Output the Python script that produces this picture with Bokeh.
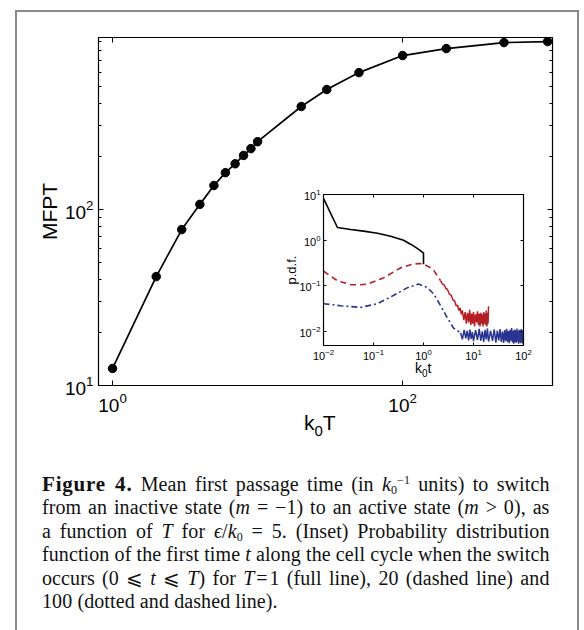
from bokeh.plotting import figure
from bokeh.models import Range1d, FixedTicker, LogAxis, Div, CustomJSTickFormatter
from bokeh.layouts import column
from bokeh.embed import file_html
from bokeh.resources import INLINE

# ---------------- data ----------------
T_values = [1, 2, 3, 4, 5, 6, 7, 8, 9, 10, 20, 30, 50, 100, 200, 500, 1000]
mfpt_values = [12.5, 41.6, 76.9, 107, 137, 162, 182, 203, 222, 243, 385, 481, 600, 750, 822, 889, 901]

main_x_ticks = [1, 100]
main_y_ticks = [10, 100]
main_y_minor = [20, 30, 40, 50, 60, 70, 80, 90, 200, 300, 400, 500, 600, 700, 800, 900]
inset_x_ticks = [0.01, 0.1, 1, 10, 100]
inset_y_ticks = [0.01, 0.1, 1, 10]

# inset: T = 1 (full line)
t1_t = [0.01, 0.019, 0.035, 0.063, 0.12, 0.22, 0.4, 0.55, 0.7, 0.85, 1.0, 1.0]
t1_p = [8.2, 1.9, 1.72, 1.58, 1.42, 1.22, 1.0, 0.82, 0.7, 0.6, 0.52, 0.3]

# inset: T = 20 (dashed line), smooth part and noisy tail
t20_t = [0.01, 0.019, 0.035, 0.05, 0.076, 0.158, 0.35, 0.6, 0.85, 1.0, 1.3, 1.6, 2.2]
t20_p = [0.21, 0.13, 0.107, 0.106, 0.11, 0.15, 0.25, 0.3, 0.31, 0.3, 0.26, 0.22, 0.13]
t20n_t = [2.2, 2.4, 2.6, 2.8, 3.0, 3.3, 3.6, 3.9, 4.2, 4.5, 4.8, 5.1, 5.4, 5.7, 6.0,
          6.4, 6.8, 7.2, 7.6, 8.0, 8.4, 8.8, 9.2, 9.6, 10.0, 10.5, 11.0, 11.5, 12.0, 12.5,
          13.0, 13.5, 14.0, 14.5, 15.0, 15.5, 16.0, 16.5, 17.0, 17.5, 18.0, 18.5, 19.0, 19.5, 20.0]
t20n_p = [0.13, 0.11, 0.105, 0.088, 0.085, 0.066, 0.062, 0.049, 0.047, 0.037, 0.038, 0.029, 0.033, 0.024, 0.029,
          0.018, 0.027, 0.015, 0.026, 0.016, 0.03, 0.014, 0.025, 0.015, 0.027,
          0.013, 0.024, 0.016, 0.028, 0.014, 0.025, 0.013, 0.026, 0.015, 0.024,
          0.013, 0.027, 0.015, 0.025, 0.014, 0.029, 0.013, 0.026, 0.015, 0.036]

# inset: T = 100 (dotted and dashed line), smooth part and noisy tail
t100_t = [0.01, 0.022, 0.055, 0.12, 0.25, 0.48, 0.79, 1.2, 1.6, 2.2, 3.0, 4.0, 5.5]
t100_p = [0.041, 0.037, 0.034, 0.041, 0.062, 0.092, 0.11, 0.092, 0.067, 0.037, 0.02, 0.012, 0.0095]
t100n_t = [5.5, 6, 6.5, 7, 7.5, 8, 8.5, 9, 9.5, 10,
           11, 12, 13, 14, 15, 16, 17, 18, 19, 20,
           22, 24, 26, 28, 30, 32, 34, 36, 38, 40,
           42, 44, 46, 48, 50, 52, 54, 56, 58, 60,
           62, 64, 66, 68, 70, 72, 74, 76, 78, 80,
           82, 84, 86, 88, 90, 92, 94, 96, 98, 100]
t100n_p = [0.0095, 0.0068, 0.011, 0.0072, 0.0105, 0.0065, 0.0112, 0.007, 0.0098, 0.0062,
           0.0108, 0.0066, 0.0115, 0.0064, 0.0102, 0.006, 0.011, 0.0068, 0.0118, 0.0061,
           0.0104, 0.0063, 0.0112, 0.0058, 0.0106, 0.0065, 0.0114, 0.006, 0.0101, 0.0057,
           0.0109, 0.0062, 0.0116, 0.0059, 0.0103, 0.0056, 0.011, 0.0064, 0.012, 0.0058,
           0.0105, 0.0055, 0.0112, 0.006, 0.0107, 0.0057, 0.0118, 0.0062, 0.0103, 0.0055,
           0.0111, 0.0059, 0.0106, 0.0056, 0.0114, 0.006, 0.0102, 0.0055, 0.0109, 0.0058]

# ---------------- style ----------------
SANS = "Liberation Sans"
RED = "#b52025"
BLUE = "#2a3491"


def blank():
    return CustomJSTickFormatter(code="return '';")


def style_axis(ax, major_in, minor_in, size, standoff):
    ax.major_tick_in = major_in
    ax.major_tick_out = 0
    ax.minor_tick_in = minor_in
    ax.minor_tick_out = 0
    ax.axis_line_color = "black"
    ax.axis_line_width = 1.2
    ax.major_tick_line_color = "black"
    ax.minor_tick_line_color = "black"
    ax.major_label_text_font = SANS
    ax.major_label_text_font_size = size
    ax.major_label_text_color = "black"
    ax.major_label_standoff = standoff


# both plots get the same left/right borders (the column aligns their frames)
BORDER_L = 98
BORDER_R = 32

# ---------------- main plot ----------------
main = figure(width=584, height=630, frame_width=454, frame_height=348,
              x_axis_type="log", y_axis_type="log",
              x_range=Range1d(0.8, 1080), y_range=Range1d(10, 950),
              output_backend="svg", toolbar_location=None,
              min_border_left=BORDER_L, min_border_right=BORDER_R, min_border_top=37, min_border_bottom=245,
              background_fill_color="white", border_fill_color="white")
main.grid.visible = False
main.outline_line_color = "black"
main.line(T_values, mfpt_values, line_color="black", line_width=1.7)
main.scatter(T_values, mfpt_values, marker="circle", size=8.5, fill_color="black", line_color="black")

main.xaxis.ticker = FixedTicker(ticks=main_x_ticks)
main.yaxis.ticker = FixedTicker(ticks=main_y_ticks, minor_ticks=main_y_minor)
style_axis(main.xaxis[0], 5, 3, "19px", 7)
style_axis(main.yaxis[0], 5, 3, "19px", 5)
main.yaxis.axis_label = "MFPT"
main.yaxis.axis_label_text_font = SANS
main.yaxis.axis_label_text_font_size = "21px"
main.yaxis.axis_label_text_font_style = "normal"
main.yaxis.axis_label_text_color = "black"
main.yaxis.axis_label_standoff = 1

top_ax = LogAxis(ticker=FixedTicker(ticks=main_x_ticks), formatter=blank())
right_ax = LogAxis(ticker=FixedTicker(ticks=main_y_ticks, minor_ticks=main_y_minor), formatter=blank())
style_axis(top_ax, 5, 3, "6px", 0)
style_axis(right_ax, 5, 3, "6px", 0)
main.add_layout(top_ax, "above")
main.add_layout(right_ax, "right")

# ---------------- inset ----------------
inset = figure(width=BORDER_L + 200 + BORDER_R, height=195, frame_width=200, frame_height=151,
               x_axis_type="log", y_axis_type="log",
               x_range=Range1d(0.01, 100), y_range=Range1d(0.005, 10),
               output_backend="svg", toolbar_location=None,
               min_border_left=BORDER_L, min_border_right=BORDER_R, min_border_top=9, min_border_bottom=35,
               background_fill_color="white", border_fill_color=None)
inset.grid.visible = False
inset.outline_line_color = "black"
inset.line(t100_t, t100_p, line_color=BLUE, line_width=1.6, line_dash="6 3 2 3")
inset.line(t100n_t, t100n_p, line_color=BLUE, line_width=1.5)
inset.line(t20_t, t20_p, line_color=RED, line_width=1.6, line_dash="6 4")
inset.line(t20n_t, t20n_p, line_color=RED, line_width=1.5)
inset.line(t1_t, t1_p, line_color="black", line_width=1.6)

inset.xaxis.ticker = FixedTicker(ticks=inset_x_ticks)
inset.yaxis.ticker = FixedTicker(ticks=inset_y_ticks)
style_axis(inset.xaxis[0], 3, 0, "11px", 3)
style_axis(inset.yaxis[0], 3, 0, "11px", 3)
inset.yaxis.axis_label = "p.d.f."
inset.yaxis.axis_label_text_font = SANS
inset.yaxis.axis_label_text_font_size = "13px"
inset.yaxis.axis_label_text_font_style = "normal"
inset.yaxis.axis_label_text_color = "black"
inset.yaxis.axis_label_standoff = -3
itop = LogAxis(ticker=FixedTicker(ticks=inset_x_ticks), formatter=blank())
iright = LogAxis(ticker=FixedTicker(ticks=inset_y_ticks), formatter=blank())
style_axis(itop, 3, 0, "4px", 0)
style_axis(iright, 3, 0, "4px", 0)
inset.add_layout(itop, "above")
inset.add_layout(iright, "right")

# ---------------- texts / frame ----------------
k0T = Div(text="<span style=\"font-family:'Liberation Sans',sans-serif;font-size:21px;line-height:21px;"
               "color:black;white-space:nowrap;\">k<span style=\"font-size:15px;position:relative;top:6px;\">0</span>T</span>",
          width=60, height=30, margin=0)
k0t = Div(text="<span style=\"font-family:'Liberation Sans',sans-serif;font-size:14px;line-height:14px;"
               "color:black;white-space:nowrap;\">k<span style=\"font-size:10px;position:relative;top:4px;\">0</span>t</span>",
          width=40, height=20, margin=0)

J = "text-align:justify;text-align-last:justify;white-space:nowrap;"
SUB = "font-size:12px;line-height:0;vertical-align:baseline;position:relative;top:3px;"
SUP = "font-size:12px;line-height:0;vertical-align:baseline;position:relative;top:-7px;"
cap_html = (
    "<div style=\"font-family:'Liberation Serif','DejaVu Serif','DejaVu Sans',serif;font-size:20px;"
    "letter-spacing:0.1px;line-height:23.4px;color:#111;\">"
    f"<div style=\"{J}\"><b style=\"font-size:21px;letter-spacing:0.8px;\">Figure 4.</b> Mean first passage time (in <i>k</i>"
    f"<span style=\"{SUB}\">0</span><span style=\"{SUP}\">&minus;1</span> units) to switch</div>"
    f"<div style=\"{J}\">from an inactive state (<i>m</i> = &minus;1) to an active state (<i>m</i> &gt; 0), as</div>"
    f"<div style=\"{J}\">a function of <i>T</i> for <i>&#1013;</i>/<i>k</i><span style=\"{SUB}\">0</span> = 5. (Inset) Probability distribution</div>"
    f"<div style=\"{J}\">function of the first time <i>t</i> along the cell cycle when the switch</div>"
    f"<div style=\"{J}\">occurs (0 &#10877; <i>t</i> &#10877; <i>T</i>) for <i>T</i>&#8202;=&#8202;1 (full line), 20 (dashed line) and</div>"
    "<div style=\"white-space:nowrap;\">100 (dotted and dashed line).</div>"
    "</div>"
)
caption = Div(text=cap_html, width=509, height=145, margin=0)

frame = Div(text="", width=564, height=620, margin=0)
frame.styles = {"position": "absolute", "left": "15px", "top": "10px", "box-sizing": "border-box",
                "border-left": "2px solid #8a8a8a", "border-right": "2px solid #8a8a8a",
                "border-top": "2px solid #8a8a8a"}

main.styles = {"position": "absolute", "left": "0px", "top": "0px"}
inset.styles = {"position": "absolute", "left": f"{323 - BORDER_L}px", "top": "185px"}
k0T.styles = {"position": "absolute", "left": "304px", "top": "412px"}
k0t.styles = {"position": "absolute", "left": "415px", "top": "361px"}
caption.styles = {"position": "absolute", "left": "42px", "top": "473px"}

root = column(main, inset, k0T, k0t, caption, frame, width=584, height=630, sizing_mode="fixed",
              styles={"position": "relative"})

open("out.html", "w").write(file_html(root, INLINE))
